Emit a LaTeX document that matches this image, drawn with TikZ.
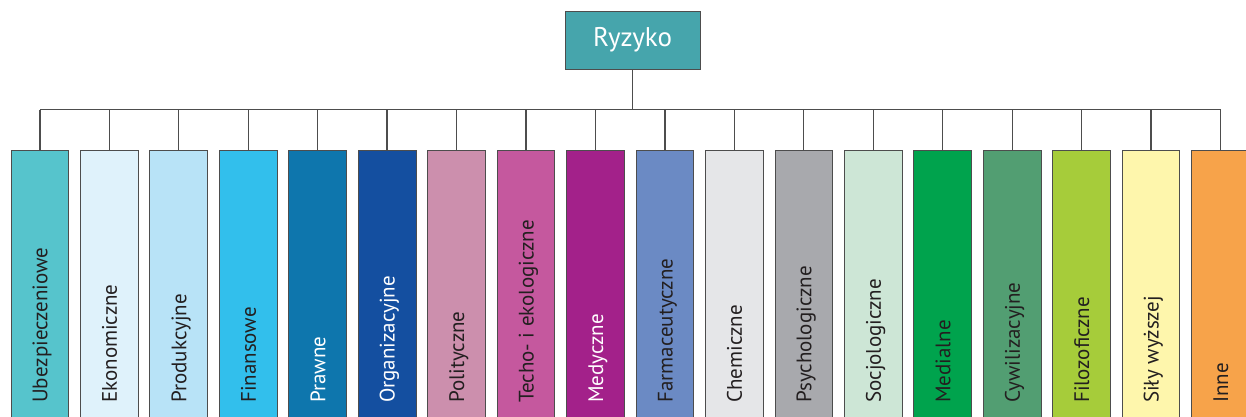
\documentclass[tikz,border=0pt]{standalone}
\usepackage{fontspec}
\setmainfont{PT Sans}
\definecolor{lineC}{HTML}{4D4D4D}
\definecolor{txtD}{HTML}{231F20}
\definecolor{cR}{HTML}{46A5AC}
\definecolor{c1}{HTML}{56C4CC}
\definecolor{c2}{HTML}{DFF2FB}
\definecolor{c3}{HTML}{B8E3F7}
\definecolor{c4}{HTML}{32BFEC}
\definecolor{c5}{HTML}{0E76AD}
\definecolor{c6}{HTML}{144FA0}
\definecolor{c7}{HTML}{CC8FAD}
\definecolor{c8}{HTML}{C5589E}
\definecolor{c9}{HTML}{A3218A}
\definecolor{c10}{HTML}{6B8AC4}
\definecolor{c11}{HTML}{E5E6E8}
\definecolor{c12}{HTML}{A8A9AD}
\definecolor{c13}{HTML}{CDE6D6}
\definecolor{c14}{HTML}{00A34D}
\definecolor{c15}{HTML}{529E72}
\definecolor{c16}{HTML}{A6CC3A}
\definecolor{c17}{HTML}{FEF6AC}
\definecolor{c18}{HTML}{F7A34A}
\tikzset{
  catbox/.style={draw=lineC, line width=0.9pt, rectangle, inner sep=0pt,
    minimum width=57.7pt, minimum height=279.3pt},
  cattext/.style={rotate=90, anchor=base west, inner sep=0pt,
    font=\fontsize{21}{24}\selectfont},
  rootbox/.style={draw=lineC, line width=0.9pt, fill=cR, rectangle, inner sep=0pt,
    minimum width=135pt, minimum height=57.7pt, text=white,
    font=\fontsize{27}{30}\selectfont},
  conn/.style={draw=lineC, line width=1.3pt}
}
\begin{document}
\begin{tikzpicture}[x=1pt,y=-1pt]
\clip (0,0) rectangle (1246,416);
\fill[white] (0,0) rectangle (1246,416);
\node[rootbox] (r) at (632.5,40.2) {Ryzyko};
\coordinate (j) at (632.5,109.7);
\foreach \i/\t/\tc in {1/Ubezpieczeniowe/txtD, 2/Ekonomiczne/txtD, 3/Produkcyjne/txtD,
  4/Finansowe/txtD, 5/Prawne/white, 6/Organizacyjne/white, 7/Polityczne/txtD,
  8/Techo- i ekologiczne/txtD, 9/Medyczne/white, 10/Farmaceutyczne/txtD,
  11/Chemiczne/txtD, 12/Psychologiczne/txtD, 13/Socjologiczne/txtD,
  14/Medialne/txtD, 15/Cywilizacyjne/txtD, 16/Filozoficzne/txtD,
  17/Siły wyższej/txtD, 18/Inne/txtD}{
  \pgfmathsetmacro{\cx}{39.85+69.45*(\i-1)}
  \node[catbox, fill=c\i] (b\i) at (\cx,290.35) {};
  \node[cattext, text=\tc] (t\i) at ([xshift=7.6pt]\cx,403) {\t};
  \draw[conn] (b\i.north) -- (b\i.north |- j);
}
\draw[conn] (r.south) -- (j);
\draw[conn] (b1.north |- j) -- (b18.north |- j);
\end{tikzpicture}
\end{document}
